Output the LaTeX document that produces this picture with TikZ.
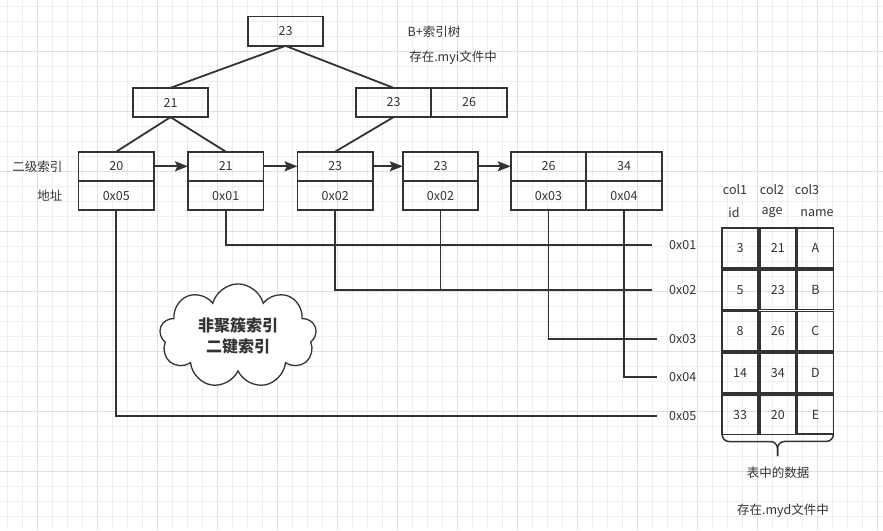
\documentclass[tikz,border=0pt]{standalone}
\usepackage{fontspec}
\setmainfont{Noto Sans CJK SC}
\usetikzlibrary{arrows.meta,positioning,matrix,shapes.symbols}
\definecolor{ink}{HTML}{333333}
\definecolor{gridlo}{HTML}{EFEFEF}
\definecolor{gridhi}{HTML}{E0E0E0}

\begin{document}
\begin{tikzpicture}[x=1pt, y=-1pt, >={Stealth[length=13pt,width=10pt,inset=2.5pt]},
  every node/.style={font=\fontsize{12.5}{15}\selectfont, text=ink},
  box/.style={draw=ink, line width=1.8pt, minimum width=75.5pt, minimum height=29.3pt, inner sep=0pt, outer sep=0pt},
  link/.style={draw=ink, line width=1.8pt},
  ptr/.style={link, shorten >=12pt},
  cell/.style={draw=ink, line width=1.8pt, minimum width=35.9pt, minimum height=39.7pt, inner sep=0pt, outer sep=0pt},
  tag/.style={inner sep=2pt}]
  % background grid
  \useasboundingbox (0,0) rectangle (883,530);
  \fill[white] (0,0) rectangle (883,530);
  \foreach \gx in {7.3,22.3,...,883} \draw[gridlo, line width=0.9pt] (\gx,0) -- (\gx,530);
  \foreach \gy in {6.7,21.7,...,530} \draw[gridlo, line width=0.9pt] (0,\gy) -- (883,\gy);
  \foreach \gx in {37.3,97.3,...,883} \draw[gridhi, line width=1.1pt] (\gx,0) -- (\gx,530);
  \foreach \gy in {51.7,111.7,...,530} \draw[gridhi, line width=1.1pt] (0,\gy) -- (883,\gy);

  % B+ tree
  \node[box] (root) at (285.5,31.2) {23};
  \node[box] (m21) at (170.5,102.5) {21};
  \node[box] (m23) at (393.5,102.5) {23};
  \node[box, right=0pt of m23] (m26) {26};
  \node (bplus) at (434,32) {B+索引树};
  \node (myi) at (453,58) {存在.myi文件中};

  % leaves
  \node[box] (k1) at (116.3,166.3) {20};
  \node[box, below=0pt of k1] (a1) {0x05};
  \node[box] (k2) at (225.7,166.3) {21};
  \node[box, below=0pt of k2] (a2) {0x01};
  \node[box] (k3) at (335.2,166.3) {23};
  \node[box, below=0pt of k3] (a3) {0x02};
  \node[box] (k4) at (440.5,166.3) {23};
  \node[box, below=0pt of k4] (a4) {0x02};
  \node[box] (k5) at (548.5,166.3) {26};
  \node[box, below=0pt of k5] (a5) {0x03};
  \node[box, right=0pt of k5] (k6) {34};
  \node[box, below=0pt of k6] (a6) {0x04};
  \node[anchor=east] (lvl) at (66,166.3) {二级索引};
  \node[anchor=east] (addr) at (66,195.5) {地址};

  \draw[link] (root.south) -- (m21.north);
  \draw[link] (root.south) -- (m23.north);
  \draw[link] (m21.south) -- (k1.north);
  \draw[link] (m21.south) -- (k2.north);
  \draw[link] (m23.south) -- (k3.north);
  \draw[link, ->] (k1) -- (k2);
  \draw[link, ->] (k2) -- (k3);
  \draw[link, ->] (k3) -- (k4);
  \draw[link, ->] (k4) -- (k5);

  % row pointers
  \node[tag, anchor=west] (p1) at (667,245) {0x01};
  \node[tag, anchor=west] (p2) at (667,290) {0x02};
  \node[tag, anchor=west] (p3) at (667,339) {0x03};
  \node[tag, anchor=west] (p4) at (667,377) {0x04};
  \node[tag, anchor=west] (p5) at (667,416) {0x05};
  \draw[ptr, shorten >=15pt] (a2.south) |- (p1.west);
  \draw[ptr, shorten >=15pt] (a3.south) |- (p2.west);
  \draw[link] (a4.south) -- (a4.south |- p2.west);
  \draw[ptr, shorten >=10pt] (a5.south) |- (p3.west);
  \draw[ptr, shorten >=10pt] (a6.south) |- (p4.west);
  \draw[ptr, shorten >=10pt] (a1.south) |- (p5.west);

  \node[cloud, cloud puffs=9, aspect=1.6, draw=ink, fill=white, line width=1.3pt,
    minimum width=157pt, minimum height=98pt, align=center,
    font=\fontsize{16}{21}\selectfont\bfseries] (idx) at (238,336) {非聚簇索引\\二键索引};

  % table data
  \matrix (tbl) [matrix of nodes, nodes={cell}, inner sep=0pt, anchor=north west,
    column sep=0pt, row sep=0pt] at (721,227) {
    3 & 21 & A \\
    5 & 23 & B \\
    8 & 26 & C \\
    14 & 34 & D \\
    33 & 20 & E \\
  };
  \node (c1) at (735,190) {col1};
  \node (c2) at (772,190) {col2};
  \node (c3) at (807,190) {col3};
  \node (h1) at (734,213) {id};
  \node (h2) at (772,213) {age};
  \node (h3) at (817,213) {name};
  % brace under the table
  \draw[link, line width=1.5pt, rounded corners=7pt]
    (tbl-5-1.south west) -- ++(0,7) -- (777.5,441.5) -- (777.5,456);
  \draw[link, line width=1.5pt, rounded corners=7pt]
    (tbl-5-3.south east) -- ++(0,7) -- (777.5,441.5) -- (777.5,456);
  \node (data) at (778,473) {表中的数据};
  \node (myd) at (783,511) {存在.myd文件中};
\end{tikzpicture}
\end{document}
